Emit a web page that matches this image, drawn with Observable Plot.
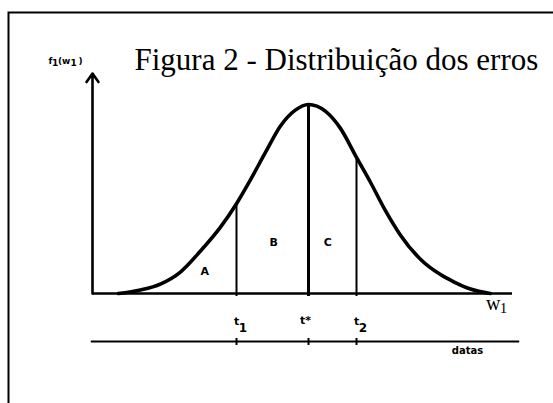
<!DOCTYPE html>
<html>
<head>
<meta charset="utf-8">
<script src="https://cdn.jsdelivr.net/npm/d3@7"></script>
<script src="https://cdn.jsdelivr.net/npm/@observablehq/plot@0.6"></script>
<style>
  html, body { margin: 0; background: #fff; overflow: hidden; }
  svg { display: block; }
</style>
</head>
<body>
<div id="chart"></div>
<script>
// Error distribution curve: w in standard-deviation units, f as relative density (peak = 1)
const curveW = [-3.17, -2.8, -2.47, -2.13, -1.8, -1.47, -1.2, -0.97, -0.72, -0.47, -0.22, 0,
                0.28, 0.53, 0.8, 1.03, 1.28, 1.53, 1.87, 2.2, 2.42, 2.7, 3.03];
const curveF = [0, 0.019, 0.05, 0.115, 0.225, 0.35, 0.475, 0.6, 0.745, 0.885, 0.97, 1,
                0.965, 0.875, 0.72, 0.59, 0.44, 0.31, 0.18, 0.1, 0.062, 0.024, 0];

// Cut points t1, t*, t2 and the curve height at each
const cutPoints  = [-1.2, 0, 0.8];
const cutHeights = [0.475, 1, 0.72];
const cutIndex   = ["1", "*", "2"];

// Area labels
const regionLabels = ["A", "B", "C"];
const regionW = [-1.73, -0.58, 0.32];
const regionF = [0.116, 0.27, 0.27];

// Axis extents
const axisW = [-3.6, 3.4];     // horizontal w axis
const axisTopF = 1.164;        // top of the f axis arrow
const dateW = [-3.62, 3.52];   // dates timeline
const dateLabelW = 2.65;

const title = "Figura 2 - Distribuição dos erros";
// f1(w1), split into letters and lowered indices
const yLabelMain = ["f", "(w", ")"];
const yLabelSub = ["1", "1"];

const curve = curveW.map((w, i) => ({w, f: curveF[i]}));
const cuts = cutPoints.map((w, i) => ({w, f: cutHeights[i], idx: cutIndex[i]}));
const regions = regionLabels.map((label, i) => ({label, w: regionW[i], f: regionF[i]}));

const sans = "DejaVu Sans";
const serif = "Liberation Serif";
const dateShift = 48;
const subCuts = cuts.filter(d => d.idx !== "*");
const starCuts = cuts.filter(d => d.idx === "*");

const labelStyle = {frameAnchor: "top-left", textAnchor: "start", lineAnchor: "middle",
                    fontFamily: sans, fontWeight: "bold", fontSize: 9, fill: "#000"};

const chart = Plot.plot({
  width: 553,
  height: 403,
  marginTop: 12,
  marginLeft: 8,
  marginRight: -6,
  marginBottom: -6,
  x: {domain: axisW, range: [92, 512], axis: null},
  y: {domain: [0, 1], range: [293, 104], axis: null},
  style: {background: "#fff", overflow: "hidden"},
  marks: [
    // enclosing box (right and bottom edges fall outside the view)
    Plot.frame({stroke: "#000", strokeWidth: 2}),

    // f axis with arrow
    Plot.arrow([0], {x1: axisW[0], x2: axisW[0], y1: 0, y2: axisTopF,
                     headLength: 6, headAngle: 70, stroke: "#000", strokeWidth: 2.6}),
    // w axis
    Plot.ruleY([0], {x1: axisW[0], x2: axisW[1], stroke: "#000", strokeWidth: 2.6}),

    // cut lines
    Plot.ruleX(subCuts, {x: "w", y1: "f", y2: 0, insetBottom: -3, stroke: "#000", strokeWidth: 2}),
    Plot.ruleX(starCuts, {x: "w", y1: "f", y2: 0, insetBottom: -3, stroke: "#000", strokeWidth: 3}),

    // distribution curve
    Plot.line(curve, {x: "w", y: "f", curve: "monotone-x", stroke: "#000", strokeWidth: 3.6,
                      strokeLinejoin: "round", strokeLinecap: "round"}),

    // area labels
    Plot.text(regions, {x: "w", y: "f", text: "label", lineAnchor: "middle", fontFamily: sans,
                        fontWeight: "bold", fontSize: 11, fill: "#000"}),

    // cut labels below the w axis
    Plot.text(subCuts, {x: "w", y: 0, text: () => "t", dy: 28, lineAnchor: "middle",
                        fontFamily: sans, fontWeight: "bold", fontSize: 11, fill: "#000"}),
    Plot.text(subCuts, {x: "w", y: 0, text: "idx", dx: 6.5, dy: 34.5, lineAnchor: "middle",
                        fontFamily: sans, fontWeight: "bold", fontSize: 12, fill: "#000"}),
    Plot.text(starCuts, {x: "w", y: 0, text: d => "t" + d.idx, dx: -3, dy: 27, lineAnchor: "middle",
                         fontFamily: sans, fontWeight: "bold", fontSize: 11, fill: "#000"}),

    // w₁ axis label
    Plot.text([axisW[1]], {x: d => d - 0.32, y: 0, text: () => "w", dy: 10, lineAnchor: "middle",
                           fontFamily: serif, fontSize: 20, fill: "#000"}),
    Plot.text([axisW[1]], {x: d => d - 0.15, y: 0, text: () => "1", dy: 15, lineAnchor: "middle",
                           fontFamily: serif, fontSize: 15, fill: "#000"}),

    // dates timeline
    Plot.ruleY([0], {x1: dateW[0], x2: dateW[1], dy: dateShift, stroke: "#000", strokeWidth: 2}),
    Plot.ruleX(cutPoints, {y1: 0, y2: 0, dy: dateShift, insetTop: -3, insetBottom: -4,
                           stroke: "#000", strokeWidth: 2}),
    Plot.text(["datas"], {x: dateLabelW, y: 0, text: d => d, dy: 57.3, lineAnchor: "middle",
                          fontFamily: sans, fontWeight: "bold", fontSize: 10, fill: "#000"}),

    // f axis label f1(w1)
    Plot.text([yLabelMain[0]], {...labelStyle, text: d => d, dx: 40, dy: 49}),
    Plot.text([yLabelSub[0]], {...labelStyle, text: d => d, dx: 43.5, dy: 51}),
    Plot.text([yLabelMain[1]], {...labelStyle, text: d => d, dx: 49.5, dy: 49}),
    Plot.text([yLabelSub[1]], {...labelStyle, text: d => d, dx: 62, dy: 51}),
    Plot.text([yLabelMain[2]], {...labelStyle, text: d => d, dx: 70, dy: 49}),

    // title
    Plot.text([title], {frameAnchor: "top-left", text: d => d, textAnchor: "start", lineAnchor: "middle",
                        dx: 126, dy: 47.4, fontFamily: serif, fontSize: 31, fill: "#000"})
  ]
});

document.getElementById("chart").appendChild(chart);
</script>
</body>
</html>
